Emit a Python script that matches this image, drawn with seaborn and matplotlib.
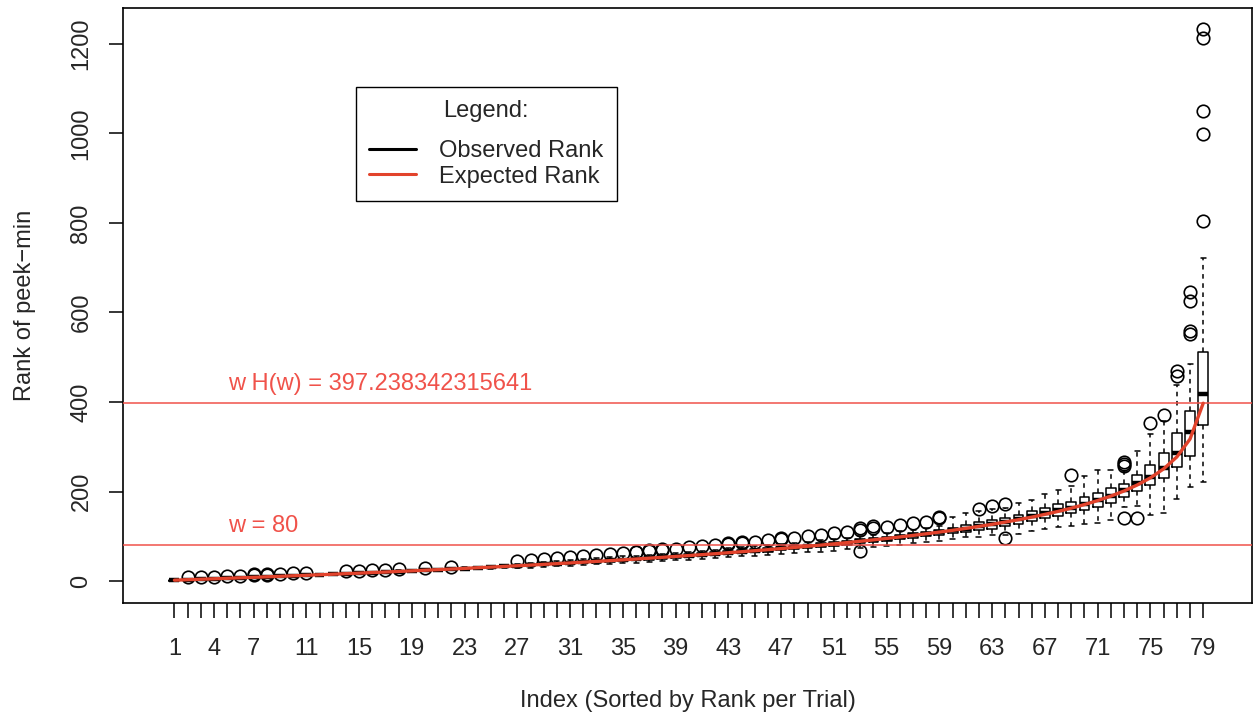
import matplotlib
matplotlib.use("Agg")
import matplotlib.pyplot as plt
import seaborn as sns
from matplotlib.lines import Line2D

# ---------------- data ----------------
index = list(range(1, 80))

expected_rank = [2.0, 3.0, 4.1, 5.1, 6.2, 7.3, 8.4, 9.5, 10.6, 11.8,
                 12.9, 14.1, 15.3, 16.5, 17.7, 19.0, 20.2, 21.5, 22.8, 24.2,
                 25.5, 26.9, 28.3, 29.8, 31.2, 32.7, 34.2, 35.7, 37.3, 38.9,
                 40.5, 42.2, 43.9, 45.6, 47.4, 49.2, 51.1, 53.0, 55.0, 57.0,
                 59.0, 61.1, 63.3, 65.5, 67.8, 70.1, 72.6, 75.1, 77.6, 80.3,
                 83.1, 85.9, 88.9, 92.0, 95.2, 98.5, 102.0, 105.6, 109.4, 113.4,
                 117.6, 122.1, 126.8, 131.8, 137.1, 142.8, 149.0, 155.6, 162.9, 170.9,
                 179.8, 189.8, 201.2, 214.6, 230.6, 250.6, 277.2, 317.2, 397.2]

box_median = [2, 3, 4, 5, 6, 7, 8, 9, 11, 12,
              13, 14, 15, 16, 18, 19, 20, 21, 23, 24,
              25, 27, 28, 30, 31, 33, 34, 36, 37, 39,
              41, 42, 44, 46, 47, 49, 51, 53, 55, 57,
              59, 61, 63, 66, 68, 70, 73, 75, 78, 80,
              83, 86, 89, 92, 95, 99, 102, 106, 109, 113,
              117, 122, 127, 132, 138, 145, 151, 158, 164, 173,
              180, 189, 203, 218, 233, 253, 285, 332, 417]

box_q1 = [1, 2, 3, 4, 5, 6, 7, 8, 10, 11,
          12, 13, 14, 15, 17, 18, 19, 20, 22, 23,
          24, 26, 27, 29, 30, 32, 32, 34, 35, 37,
          38, 40, 41, 43, 45, 46, 48, 50, 52, 54,
          56, 58, 60, 62, 64, 66, 69, 71, 73, 76,
          78, 81, 84, 87, 90, 93, 96, 100, 103, 107,
          110, 115, 117, 122, 128, 134, 140, 145, 151, 158,
          166, 175, 188, 201, 214, 231, 255, 279, 348]

box_q3 = [3, 4, 5, 6, 7, 8, 9, 11, 12, 13,
          14, 15, 16, 18, 19, 20, 21, 23, 24, 25,
          27, 28, 30, 31, 32, 34, 36, 38, 39, 41,
          43, 45, 46, 48, 50, 52, 54, 56, 58, 60,
          62, 64, 67, 69, 71, 74, 76, 79, 81, 84,
          87, 90, 93, 96, 99, 103, 107, 110, 114, 119,
          126, 131, 136, 141, 148, 157, 164, 173, 177, 188,
          197, 207, 216, 236, 259, 285, 331, 380, 512]

whisker_low = [1, 2, 2, 3, 4, 5, 6, 7, 9, 10,
               11, 12, 13, 14, 16, 17, 18, 19, 21, 22,
               23, 24, 25, 27, 28, 30, 29, 30, 31, 33,
               34, 35, 37, 38, 40, 41, 43, 45, 46, 48,
               50, 51, 53, 55, 57, 58, 60, 62, 64, 66,
               68, 71, 73, 76, 78, 81, 84, 87, 90, 93,
               99, 99, 102, 104, 106, 112, 117, 121, 122, 128,
               130, 136, 166, 167, 147, 151, 184, 209, 221]

whisker_high = [4, 5, 6, 7, 8, 9, 10, 12, 13, 14,
                15, 16, 17, 19, 20, 21, 22, 24, 25, 26,
                28, 29, 31, 32, 33, 35, 39, 41, 43, 45,
                47, 49, 51, 53, 55, 57, 59, 61, 63, 66,
                68, 70, 73, 75, 78, 80, 83, 86, 88, 91,
                94, 97, 101, 104, 108, 111, 115, 119, 123, 142,
                151, 156, 160, 164, 175, 180, 195, 203, 212, 234,
                248, 249, 245, 291, 329, 358, 438, 485, 722]

outliers = [[], [8], [9], [10], [11], [12], [13, 15], [14, 15], [16], [17],
            [18], [], [], [22], [23], [24], [25], [27], [], [29],
            [], [32], [], [], [], [], [45], [47], [49], [52],
            [54], [56], [58], [60], [62], [64, 66], [67, 69], [70, 72], [72], [75],
            [78], [80], [82, 84], [85, 87], [88], [91], [94, 96], [97], [100], [103],
            [107], [110], [115, 119, 68], [119, 122], [121], [125], [129], [133], [140, 144], [],
            [], [162], [167], [173, 97], [], [], [], [], [236], [],
            [], [], [258, 262, 266, 141], [141], [353], [370], [459, 470], [552, 559, 626, 646],
            [805, 998, 1050, 1214, 1232]]

w_value = 80
w_hw_value = 397.238342315641
labeled_ticks = [1, 4, 7, 11, 15, 19, 23, 27, 31, 35, 39, 43, 47, 51, 55, 59, 63, 67, 71, 75, 79]
y_ticks = [0, 200, 400, 600, 800, 1000, 1200]
legend_labels = ["Observed Rank", "Expected Rank"]

# ---------------- style ----------------
sns.set_style("ticks")
plt.rcParams['font.family'] = ['Liberation Sans', 'DejaVu Sans']

RED_CURVE = '#e2432c'
RED_LINE = '#f0524a'
FS = 17

fig = plt.figure(figsize=(12.56, 7.19), dpi=100)
ax = fig.add_axes([123 / 1256, (719 - 603) / 719, 1129 / 1256, 595 / 719])

stats = []
for i in range(len(index)):
    stats.append(dict(med=box_median[i], q1=box_q1[i], q3=box_q3[i],
                      whislo=whisker_low[i], whishi=whisker_high[i],
                      fliers=outliers[i]))

ax.bxp(stats, positions=index, widths=0.75, capwidths=0.38, manage_ticks=False,
       boxprops=dict(color='black', linewidth=1.1),
       whiskerprops=dict(color='black', linewidth=1.1, linestyle=(0, (3, 3))),
       capprops=dict(color='black', linewidth=1.1),
       medianprops=dict(color='black', linewidth=3.2, solid_capstyle='butt'),
       flierprops=dict(marker='o', markerfacecolor='none', markeredgecolor='black',
                       markersize=9, markeredgewidth=1.2, linestyle='none'))

ax.axhline(w_value, color=RED_LINE, linewidth=1.1, zorder=3)
ax.axhline(w_hw_value, color=RED_LINE, linewidth=1.1, zorder=3)

sns.lineplot(x=index, y=expected_rank, color=RED_CURVE, linewidth=2.4, ax=ax, zorder=4)

ax.text(5.1, 123, f"w = {w_value}", color=RED_LINE, fontsize=FS, ha='left', va='center')
ax.text(5.1, 441, f"w H(w) = {w_hw_value}", color=RED_LINE, fontsize=FS, ha='left', va='center')

ax.set_xlim(-2.9, 82.7)
ax.set_ylim(-49, 1280)

ax.set_xticks(index)
ax.set_xticklabels([str(i) if i in labeled_ticks else '' for i in index], fontsize=FS)
ax.set_yticks(y_ticks)
ax.set_yticklabels([str(v) for v in y_ticks], fontsize=FS, rotation=90, va='center')
ax.tick_params(axis='x', direction='out', length=11, width=1.1, pad=14, color='black',
               bottom=True)
ax.tick_params(axis='y', direction='out', length=10, width=1.1, pad=12, color='black',
               left=True)

for sp in ax.spines.values():
    sp.set_visible(True)
    sp.set_color('black')
    sp.set_linewidth(1.2)

ax.set_xlabel("Index (Sorted by Rank per Trial)", fontsize=FS, labelpad=22)
ax.set_ylabel("Rank of peek\u2212min", fontsize=FS, labelpad=25)

handles = [Line2D([], [], color='black', linewidth=2.2),
           Line2D([], [], color=RED_CURVE, linewidth=2.2)]
leg = ax.legend(handles, legend_labels, title='Legend:', loc='upper left',
                bbox_to_anchor=(0.206, 0.867), borderaxespad=0, frameon=True,
                fancybox=False, edgecolor='black', framealpha=1, fontsize=FS,
                title_fontsize=FS, borderpad=0.55, handlelength=2.0,
                handletextpad=1.0, labelspacing=0.15)
leg._legend_box.sep = 13
leg.get_frame().set_linewidth(1.0)

fig.savefig("out.png", dpi=100)
